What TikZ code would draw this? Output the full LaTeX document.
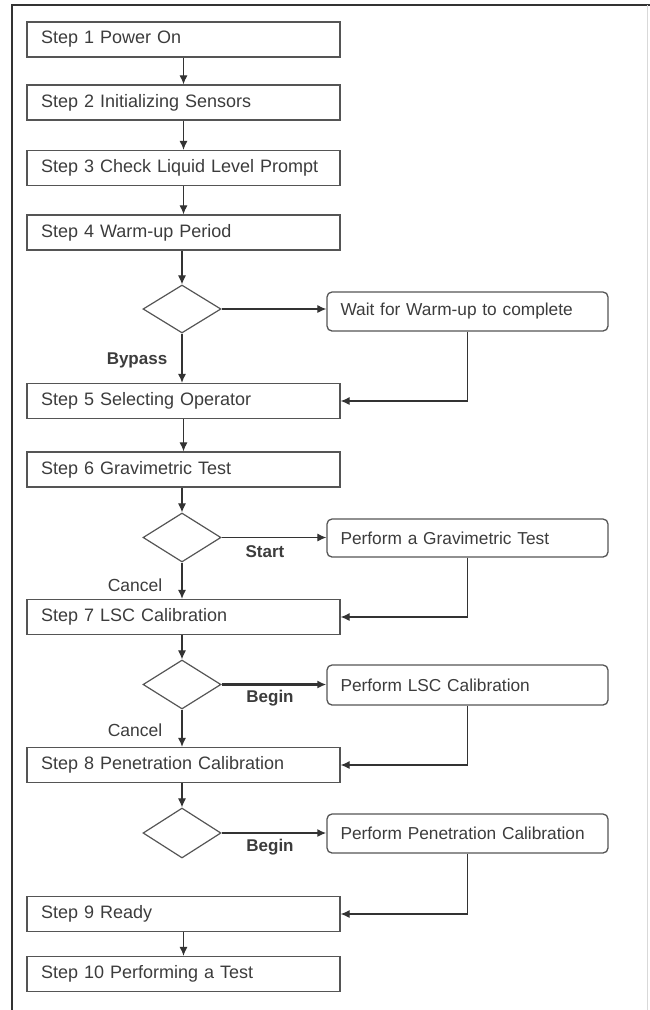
\documentclass[tikz,border=0pt]{standalone}
\usepackage{fontspec}
\setmainfont{Liberation Sans}
\usetikzlibrary{shapes.geometric,arrows.meta}
\definecolor{txt}{HTML}{3C3C3C}
\definecolor{ln}{HTML}{333333}
\definecolor{bd}{HTML}{555555}
\begin{document}
\begin{tikzpicture}[x=1pt,y=-1pt,
  every node/.style={font=\fontsize{18}{21}\selectfont, text=txt},
  stepbox/.style={draw=bd, line width=1.3, rectangle, minimum height=35, text width=285, align=left, inner xsep=14, inner ysep=0},
  sidebox/.style={draw=bd, line width=1.3, rectangle, rounded corners=5, text width=254, align=left, inner xsep=13.5, inner ysep=0, font=\fontsize{17.3}{20}\selectfont},
  decide/.style={draw=bd, line width=1.2, diamond, inner sep=0, minimum width=78, minimum height=49},
  flow/.style={draw=ln, line width=1.1, -{Latex[length=9,width=8]}},
  thickflow/.style={draw=ln, line width=2.2, -{Latex[length=9,width=8]}},
  lbl/.style={font=\fontsize{17}{20}\selectfont\bfseries},
  lblr/.style={font=\fontsize{17.5}{20}\selectfont}]
\useasboundingbox (0,0) rectangle (650,1010);
% frame
\draw[ln, line width=2] (12,1010) -- (12,5) -- (650,5);
\draw[black!15, line width=1] (647,5) -- (647,1010);
% main steps
\node[stepbox] (s1) at (183.5,39.5) {Step 1 Power On};
\node[stepbox] (s2) at (183.5,102.5) {Step 2 Initializing Sensors};
\node[stepbox] (s3) at (183.5,168) {Step 3 Check Liquid Level Prompt};
\node[stepbox] (s4) at (183.5,232.5) {Step 4 Warm-up Period};
\node[stepbox] (s5) at (183.5,401) {Step 5 Selecting Operator};
\node[stepbox] (s6) at (183.5,469.5) {Step 6 Gravimetric Test};
\node[stepbox] (s7) at (183.5,617) {Step 7 LSC Calibration};
\node[stepbox] (s8) at (183.5,765) {Step 8 Penetration Calibration};
\node[stepbox] (s9) at (183.5,914) {Step 9 Ready};
\node[stepbox] (s10) at (183.5,974) {Step 10 Performing a Test};
% decisions
\node[decide, minimum height=48] (d1) at (182,309) {};
\node[decide] (d2) at (182,537.5) {};
\node[decide] (d3) at (182,684.5) {};
\node[decide, minimum height=50] (d4) at (182,833) {};
% side boxes
\node[sidebox, minimum height=39] (w1) at (467.5,311.5) {Wait for Warm-up to complete};
\node[sidebox, minimum height=38] (w2) at (467.5,538) {Perform a Gravimetric Test};
\node[sidebox, minimum height=40] (w3) at (467.5,685) {Perform LSC Calibration};
\node[sidebox, minimum height=39] (w4) at (467.5,833.5) {Perform Penetration Calibration};
% labels
\node[lbl] (lbypass) at (137,360) {Bypass};
\node[lbl] (lstart) at (265,552) {Start};
\node[lblr] (lcancel1) at (135,585) {Cancel};
\node[lbl] (lbegin1) at (270,698) {Begin};
\node[lblr] (lcancel2) at (135,730) {Cancel};
\node[lbl] (lbegin2) at (270,847) {Begin};
% main flow
\draw[flow] (s1.south) -- (s2.north);
\draw[flow] (s2.south) -- (s3.north);
\draw[flow] (s3.south) -- (s4.north);
\draw[flow] (s4.south -| d1.north) -- (d1.north);
\draw[flow] (d1.south) -- (d1.south |- s5.north);
\draw[flow] (s5.south) -- (s6.north);
\draw[flow] (s6.south -| d2.north) -- (d2.north);
\draw[flow] (d2.south) -- (d2.south |- s7.north);
\draw[flow] (s7.south -| d3.north) -- (d3.north);
\draw[flow] (d3.south) -- (d3.south |- s8.north);
\draw[flow] (s8.south -| d4.north) -- (d4.north);
\draw[flow] (s9.south) -- (s10.north);
% side flows
\draw[flow] (d1.east) -- (d1.east -| w1.west);
\draw[flow] (w1.south) |- (s5.east);
\draw[flow] (d2.east) -- (d2.east -| w2.west);
\draw[flow] (w2.south) |- (s7.east);
\draw[thickflow] (d3.east) -- (d3.east -| w3.west);
\draw[flow] (w3.south) |- (s8.east);
\draw[thickflow] (d4.east) -- (d4.east -| w4.west);
\draw[flow] (w4.south) |- (s9.east);
\end{tikzpicture}
\end{document}
